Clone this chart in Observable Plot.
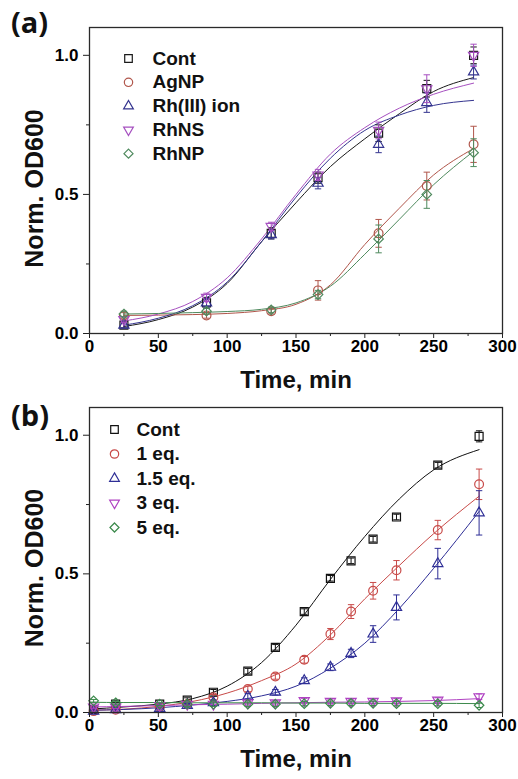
<!DOCTYPE html>
<html><head><meta charset="utf-8">
<script src="https://cdn.jsdelivr.net/npm/d3@7"></script>
<script src="https://cdn.jsdelivr.net/npm/@observablehq/plot@0.6"></script>
<style>
body{margin:0;background:#fff;}
#wrap{position:relative;width:518px;height:779px;overflow:hidden;}
.panel{position:absolute;left:0;}
.plabel{position:absolute;left:11px;font-family:"Open Sans",sans-serif;font-weight:bold;font-size:29px;line-height:1;color:#111;z-index:5;}
</style></head><body>
<div id="wrap">
  <div class="plabel" style="top:7px">(a)</div>
  <div class="plabel" style="top:400px">(b)</div>
</div>
<script>
// ---------- Panel (a) data ----------
const timeA = [25, 85, 132, 166, 210, 245, 279];
const namesA = ["Cont", "AgNP", "Rh(III) ion", "RhNS", "RhNP"];
const valuesA = [
  [0.03, 0.11, 0.36, 0.56, 0.72, 0.88, 1.00],
  [0.065, 0.065, 0.08, 0.155, 0.36, 0.53, 0.68],
  [0.03, 0.11, 0.355, 0.54, 0.68, 0.83, 0.94],
  [0.05, 0.13, 0.385, 0.57, 0.73, 0.88, 1.00],
  [0.07, 0.08, 0.085, 0.14, 0.34, 0.50, 0.65]
];
const errorsA = [
  [0.01, 0.02, 0.02, 0.02, 0.03, 0.03, 0.03],
  [0.01, 0.01, 0.01, 0.035, 0.05, 0.05, 0.065],
  [0.01, 0.015, 0.015, 0.02, 0.03, 0.035, 0.025],
  [0.01, 0.015, 0.015, 0.02, 0.03, 0.05, 0.04],
  [0.01, 0.01, 0.01, 0.015, 0.05, 0.05, 0.05]
];
const fitTimeA = [25, 50, 75, 100, 125, 150, 175, 200, 225, 250, 279];
const fitA = [
  [0.025, 0.05, 0.095, 0.18, 0.33, 0.47, 0.60, 0.70, 0.79, 0.87, 0.92],
  [0.065, 0.066, 0.068, 0.072, 0.082, 0.105, 0.175, 0.32, 0.45, 0.57, 0.665],
  [0.03, 0.055, 0.10, 0.185, 0.33, 0.49, 0.63, 0.73, 0.785, 0.82, 0.838],
  [0.045, 0.07, 0.115, 0.20, 0.34, 0.50, 0.645, 0.74, 0.81, 0.86, 0.90],
  [0.07, 0.072, 0.075, 0.079, 0.087, 0.11, 0.17, 0.285, 0.41, 0.535, 0.655]
];
const colorsA = ["#1a1a1a", "#b0554a", "#34348f", "#a650c0", "#4f8a5e"];

// ---------- Panel (b) data ----------
const timeB = [3, 19, 51, 71, 90, 115, 135, 156, 175, 190, 206, 223, 253, 283];
const namesB = ["Cont", "1 eq.", "1.5 eq.", "3 eq.", "5 eq."];
const valuesB = [
  [0.01, 0.03, 0.03, 0.045, 0.073, 0.149, 0.235, 0.364, 0.484, 0.547, 0.625, 0.705, 0.892, 0.996],
  [0.005, 0.01, 0.02, 0.03, 0.055, 0.085, 0.13, 0.19, 0.283, 0.364, 0.439, 0.513, 0.658, 0.823],
  [0.005, 0.01, 0.015, 0.025, 0.035, 0.058, 0.073, 0.115, 0.163, 0.213, 0.283, 0.379, 0.537, 0.72],
  [0.02, 0.02, 0.025, 0.03, 0.03, 0.035, 0.035, 0.043, 0.04, 0.04, 0.04, 0.042, 0.045, 0.057],
  [0.042, 0.035, 0.03, 0.03, 0.03, 0.03, 0.03, 0.032, 0.033, 0.033, 0.033, 0.032, 0.032, 0.026]
];
const errorsB = [
  [0.005, 0.005, 0.005, 0.008, 0.01, 0.01, 0.01, 0.01, 0.01, 0.01, 0.01, 0.01, 0.01, 0.02],
  [0.005, 0.005, 0.005, 0.008, 0.01, 0.01, 0.01, 0.012, 0.02, 0.025, 0.03, 0.035, 0.035, 0.055],
  [0.005, 0.005, 0.005, 0.008, 0.01, 0.01, 0.01, 0.01, 0.012, 0.015, 0.03, 0.045, 0.055, 0.08],
  [0.005, 0.005, 0.005, 0.008, 0.008, 0.008, 0.008, 0.008, 0.008, 0.008, 0.008, 0.008, 0.008, 0.01],
  [0.005, 0.005, 0.005, 0.008, 0.008, 0.008, 0.008, 0.008, 0.008, 0.008, 0.008, 0.008, 0.008, 0.008]
];
const fitTimeB = [0, 25, 50, 75, 100, 125, 150, 175, 200, 225, 250, 283];
const fitB = [
  [0.012, 0.02, 0.03, 0.05, 0.095, 0.18, 0.315, 0.48, 0.635, 0.77, 0.875, 0.948],
  [0.008, 0.012, 0.022, 0.04, 0.07, 0.115, 0.175, 0.28, 0.41, 0.53, 0.645, 0.78],
  [0.008, 0.011, 0.017, 0.027, 0.04, 0.06, 0.095, 0.16, 0.25, 0.375, 0.52, 0.725],
  [0.02, 0.022, 0.025, 0.028, 0.03, 0.033, 0.035, 0.037, 0.038, 0.04, 0.043, 0.05],
  [0.037, 0.036, 0.036, 0.035, 0.035, 0.035, 0.034, 0.034, 0.033, 0.033, 0.033, 0.032]
];
const colorsB = ["#111111", "#c84a48", "#2e2e96", "#b042c2", "#3c8a4c"];

// ---------- axis ticks ----------
const xMajor = [0, 50, 100, 150, 200, 250, 300];
const xMinor = [25, 75, 125, 175, 225, 275];
const yMajor = [0, 0.5, 1.0];
const yMinor = [0.25, 0.75];

// ---------- symbols ----------
const sqrt3 = Math.sqrt(3);
const triDown = {
  draw(ctx, size) {
    const y = -Math.sqrt(size / (sqrt3 * 3));
    ctx.moveTo(0, -y * 2);
    ctx.lineTo(-sqrt3 * y, y);
    ctx.lineTo(sqrt3 * y, y);
    ctx.closePath();
  }
};
const capSym = {
  draw(ctx, size) {
    const w = Math.sqrt(size) / 2;
    ctx.moveTo(-w, 0);
    ctx.lineTo(w, 0);
  }
};
const symbols = ["square", "circle", "triangle", triDown, "diamond2"];
const radii = [4.5, 4.4, 3.8, 3.8, 4.3];

function makePanel(cfg) {
  const pts = [], fits = [];
  cfg.names.forEach((name, s) => {
    cfg.time.forEach((t, i) => {
      pts.push({s, name, t, v: cfg.values[s][i], lo: cfg.values[s][i] - cfg.errors[s][i], hi: cfg.values[s][i] + cfg.errors[s][i]});
    });
    cfg.fitTime.forEach((t, i) => fits.push({s, t, v: cfg.fit[s][i]}));
  });
  const marks = [];
  // fitted curves
  cfg.names.forEach((name, s) => {
    marks.push(Plot.line(fits.filter(d => d.s === s), {x: "t", y: "v", stroke: cfg.colors[s], strokeWidth: 1, curve: "monotone-x"}));
  });
  // error bars + markers
  cfg.names.forEach((name, s) => {
    const d = pts.filter(p => p.s === s);
    const c = cfg.colors[s];
    marks.push(Plot.link(d, {x1: "t", x2: "t", y1: "lo", y2: "hi", stroke: c, strokeWidth: 1}));
    marks.push(Plot.dot(d, {x: "t", y: "hi", symbol: capSym, r: 3.6, stroke: c, strokeWidth: 1}));
    marks.push(Plot.dot(d, {x: "t", y: "lo", symbol: capSym, r: 3.6, stroke: c, strokeWidth: 1}));
    marks.push(Plot.dot(d, {x: "t", y: "v", symbol: symbols[s], r: radii[s], stroke: c, strokeWidth: 1.2, fill: "none"}));
  });
  // legend
  cfg.names.forEach((name, s) => {
    const dy = cfg.legY + s * cfg.legStep;
    marks.push(Plot.dot([name], {frameAnchor: "top-left", dx: cfg.legMX, dy, symbol: symbols[s], r: radii[s] * 0.95, stroke: cfg.colors[s], strokeWidth: 1.2, fill: "none"}));
    marks.push(Plot.text([name], {frameAnchor: "top-left", dx: cfg.legTX, dy, text: d => d, textAnchor: "start", lineAnchor: "middle", fontSize: 19, fontWeight: "bold", fill: "#111"}));
  });
  // axes
  marks.push(Plot.axisX({ticks: xMajor, tickSize: 5, tickPadding: 1, label: null, fontSize: 17, fontWeight: "bold", stroke: "#222"}));
  marks.push(Plot.axisX({ticks: xMinor, tickSize: 3, tickFormat: () => "", label: null, stroke: "#222"}));
  marks.push(Plot.axisY({ticks: yMajor, tickSize: 6, tickPadding: 5, tickFormat: d3.format(".1f"), label: null, fontSize: 17, fontWeight: "bold", stroke: "#222"}));
  marks.push(Plot.axisY({ticks: yMinor, tickSize: 3, tickFormat: () => "", label: null, stroke: "#222"}));
  marks.push(Plot.frame({stroke: "#2a2a2a", strokeWidth: 1.3}));
  // axis titles
  marks.push(Plot.text(["Time, min"], {frameAnchor: "bottom", dy: 47, text: d => d, lineAnchor: "middle", fontSize: 24, fontWeight: "bold", fill: "#111"}));
  marks.push(Plot.text(["Norm. OD600"], {frameAnchor: "left", dx: -55, dy: 8, rotate: -90, text: d => d, lineAnchor: "middle", textAnchor: "middle", fontSize: 25, fontWeight: "bold", fill: "#111"}));

  return Plot.plot({
    width: 518,
    height: cfg.height,
    marginLeft: 89,
    marginRight: 16,
    marginTop: cfg.marginTop,
    marginBottom: 67,
    x: {domain: [0, 300]},
    y: {domain: [0, 1.1]},
    style: {fontFamily: "'Liberation Sans', Arial, sans-serif", background: "transparent", overflow: "visible"},
    marks
  });
}

const wrap = document.getElementById("wrap");
const a = makePanel({time: timeA, names: namesA, values: valuesA, errors: errorsA, fitTime: fitTimeA, fit: fitA, colors: colorsA,
  height: 400, marginTop: 27, legMX: 39, legTX: 63, legY: 31, legStep: 23.8});
a.classList.add("panel"); a.style.top = "0px";
wrap.appendChild(a);
const b = makePanel({time: timeB, names: namesB, values: valuesB, errors: errorsB, fitTime: fitTimeB, fit: fitB, colors: colorsB,
  height: 379, marginTop: 7, legMX: 25, legTX: 47, legY: 22, legStep: 24.5});
b.classList.add("panel"); b.style.top = "400px";
wrap.appendChild(b);
</script>
</body></html>
